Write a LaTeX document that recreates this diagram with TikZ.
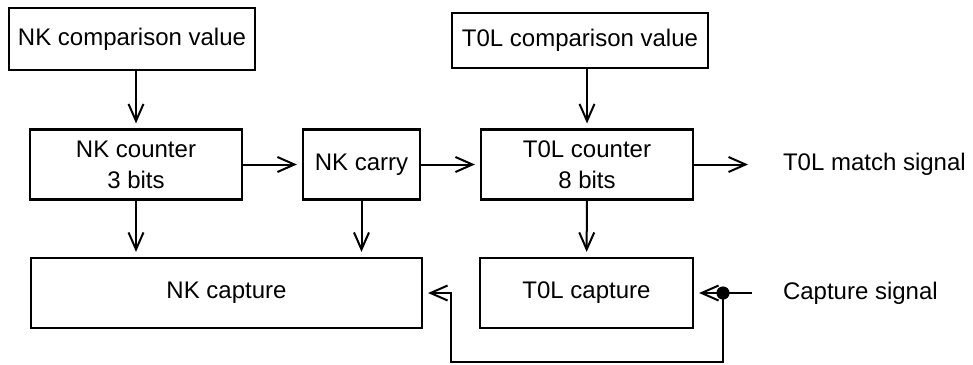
\documentclass[tikz,border=0pt]{standalone}
\usepackage{fontspec}
\setmainfont{Liberation Sans}
\usetikzlibrary{arrows.meta}

\begin{document}
\begin{tikzpicture}[x=0.5pt,y=-0.5pt,>={Straight Barb[length=8.5pt,width=7.5pt]},
  line width=1pt,
  box node/.style={draw,rectangle,line width=1.1pt,inner sep=0pt,align=center,
    minimum height=35pt,font=\fontsize{12pt}{15.5pt}\selectfont},
  text node/.style={inner sep=0pt,anchor=west,font=\fontsize{12pt}{15.5pt}\selectfont}]

  \useasboundingbox (0,0) rectangle (973,364);

  \node[box node,minimum width=123pt,minimum height=31pt] (ncmp) at (132,39) {NK comparison value};
  \node[box node,minimum width=128pt,minimum height=27.5pt] (tcmp) at (580,40.5) {T0L comparison value};
  \node[box node,minimum width=106pt] (ncnt) at (136,164.5) {NK counter\\3 bits};
  \node[box node,minimum width=58.5pt] (carry) at (361.5,164.5) {NK carry};
  \node[box node,minimum width=106pt] (tcnt) at (587,164.5) {T0L counter\\8 bits};
  \node[box node,minimum width=195.5pt] (ncap) at (226.5,293) {NK capture};
  \node[box node,minimum width=106.5pt] (tcap) at (586.5,293) {T0L capture};

  \node[text node] (msig) at (782,164.5) {T0L match signal};
  \node[text node] (csig) at (782,293) {Capture signal};

  \coordinate (mend) at (748,164.5);
  \coordinate (cin) at (752,293);
  \coordinate (dot) at (723,293);
  \coordinate (loop) at (451,362);

  \path[->,shorten >=2.5pt]
    (ncnt |- ncmp.south) edge (ncnt)
    (tcnt |- tcmp.south) edge (tcnt)
    (ncnt.east) edge (carry.west)
    (carry.east) edge (tcnt.west)
    (ncnt) edge (ncnt |- ncap.north)
    (carry) edge (carry |- ncap.north)
    (tcnt) edge (tcap)
    (dot) edge (tcap.east)
    ;
  \draw[->,shorten >=0pt] (tcnt.east) -- (mend);
  \draw (cin) -- (dot);
  \draw[->,shorten >=2.5pt] (dot) |- (loop) |- (ncap.east);
  \fill (dot) circle (3.3pt);
\end{tikzpicture}
\end{document}
